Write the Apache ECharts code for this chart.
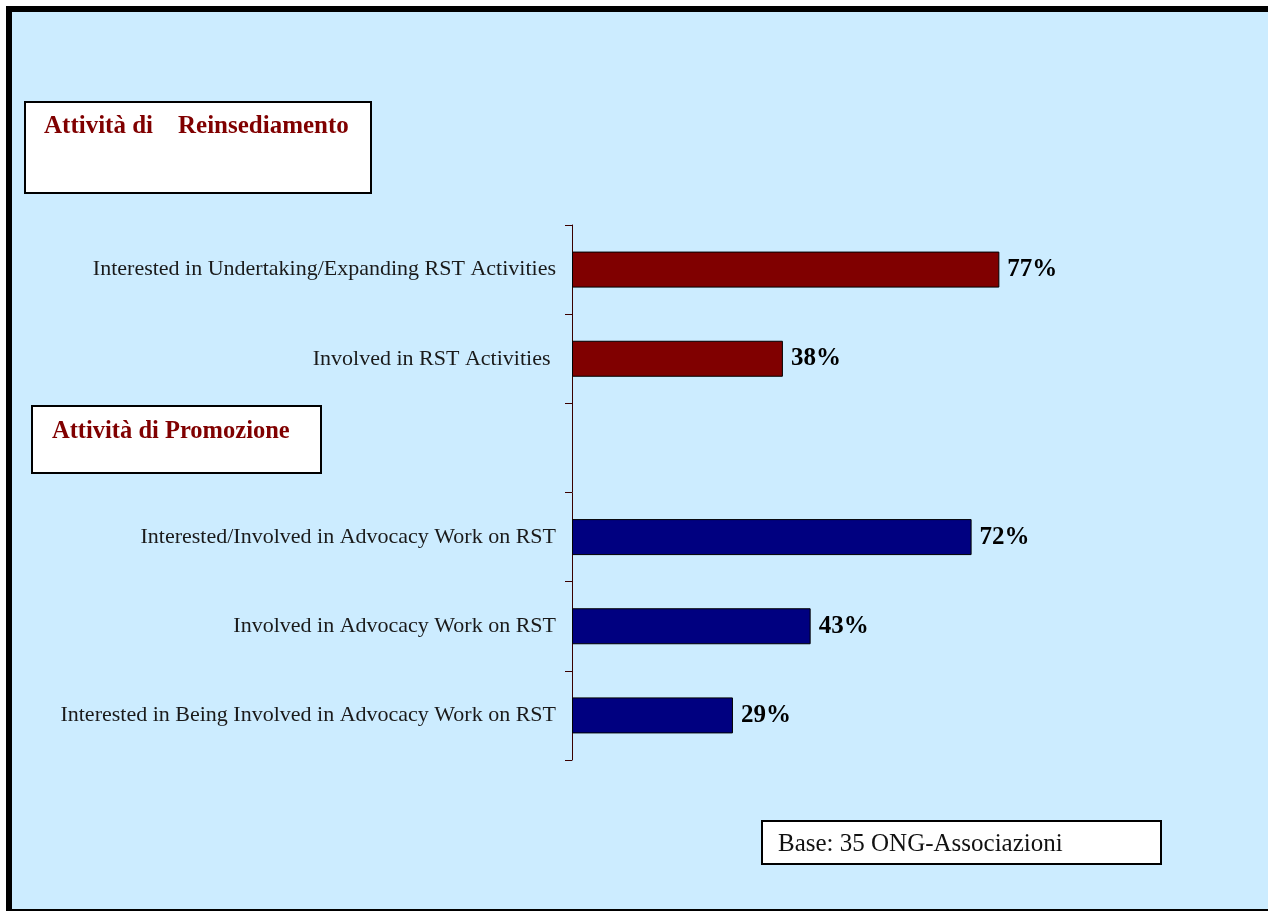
<!DOCTYPE html>
<html>
<head>
<meta charset="utf-8">
<script src="https://cdn.jsdelivr.net/npm/echarts@6/dist/echarts.min.js"></script>
<style>
  html, body { margin: 0; padding: 0; background: #ffffff; }
  #chart { width: 1268px; height: 911px; }
</style>
</head>
<body>
<div id="chart"></div>
<script>
// categories top to bottom (one empty slot separates the two groups)
var categories = [
  'Interested in Undertaking/Expanding RST Activities',
  'Involved in RST Activities ',
  '',
  'Interested/Involved in Advocacy Work on RST',
  'Involved in Advocacy Work on RST',
  'Interested in Being Involved in Advocacy Work on RST'
];
var values = [77, 38, null, 72, 43, 29];
var groupColors = ['#800000', '#800000', null, '#000080', '#000080', '#000080'];

var serif = '"Liberation Serif", "Times New Roman", serif';

var chart = echarts.init(document.getElementById('chart'));

var barData = values.map(function (v, i) {
  return { value: v, itemStyle: { color: groupColors[i] || '#000' } };
});

function box(x, y, w, h, text, style) {
  return [
    {
      type: 'rect', z: 10,
      shape: { x: x, y: y, width: w, height: h },
      style: { fill: '#ffffff', stroke: '#000000', lineWidth: 2 }
    },
    {
      type: 'text', z: 11,
      x: style.x, y: style.y,
      style: Object.assign({ text: text, fontFamily: serif, textVerticalAlign: 'middle' }, style.font)
    }
  ];
}

var graphics = [
  { type: 'rect', z: -2, silent: true, shape: { x: 6, y: 6, width: 1262, height: 905 }, style: { fill: '#000000' } },
  { type: 'rect', z: -1, silent: true, shape: { x: 12, y: 12, width: 1256, height: 897 }, style: { fill: '#CCECFF' } }
]
  .concat(box(25, 102, 346, 91, 'Attività di    Reinsediamento',
    { x: 44, y: 127, font: { fontSize: 25, fontWeight: 'bold', fill: '#800000' } }))
  .concat(box(32, 406, 289, 67, 'Attività di Promozione',
    { x: 52, y: 432, font: { fontSize: 24.5, fontWeight: 'bold', fill: '#800000' } }))
  .concat(box(762, 821, 399, 43, 'Base: 35 ONG-Associazioni',
    { x: 778, y: 844, font: { fontSize: 25, fill: '#111111' } }));

chart.setOption({
  animation: false,
  backgroundColor: 'transparent',
  graphic: graphics,
  grid: { left: 572, top: 225, width: 555, height: 535 },
  xAxis: {
    type: 'value', min: 0, max: 100,
    show: false
  },
  yAxis: {
    type: 'category',
    inverse: true,
    data: categories,
    axisLine: { lineStyle: { color: '#3a0000', width: 1 } },
    axisTick: { show: true, length: 7, inside: false, lineStyle: { color: '#3a0000' } },
    axisLabel: { margin: 16, fontFamily: serif, fontSize: 22, color: '#1a1a1a' },
    splitLine: { show: false }
  },
  series: [{
    type: 'bar',
    data: barData,
    barWidth: 36,
    itemStyle: { borderColor: '#000000', borderWidth: 1 },
    label: {
      show: true,
      position: 'right',
      distance: 8,
      formatter: '{c}%',
      fontFamily: serif,
      fontWeight: 'bold',
      fontSize: 25,
      color: '#000000'
    }
  }]
});
</script>
</body>
</html>
